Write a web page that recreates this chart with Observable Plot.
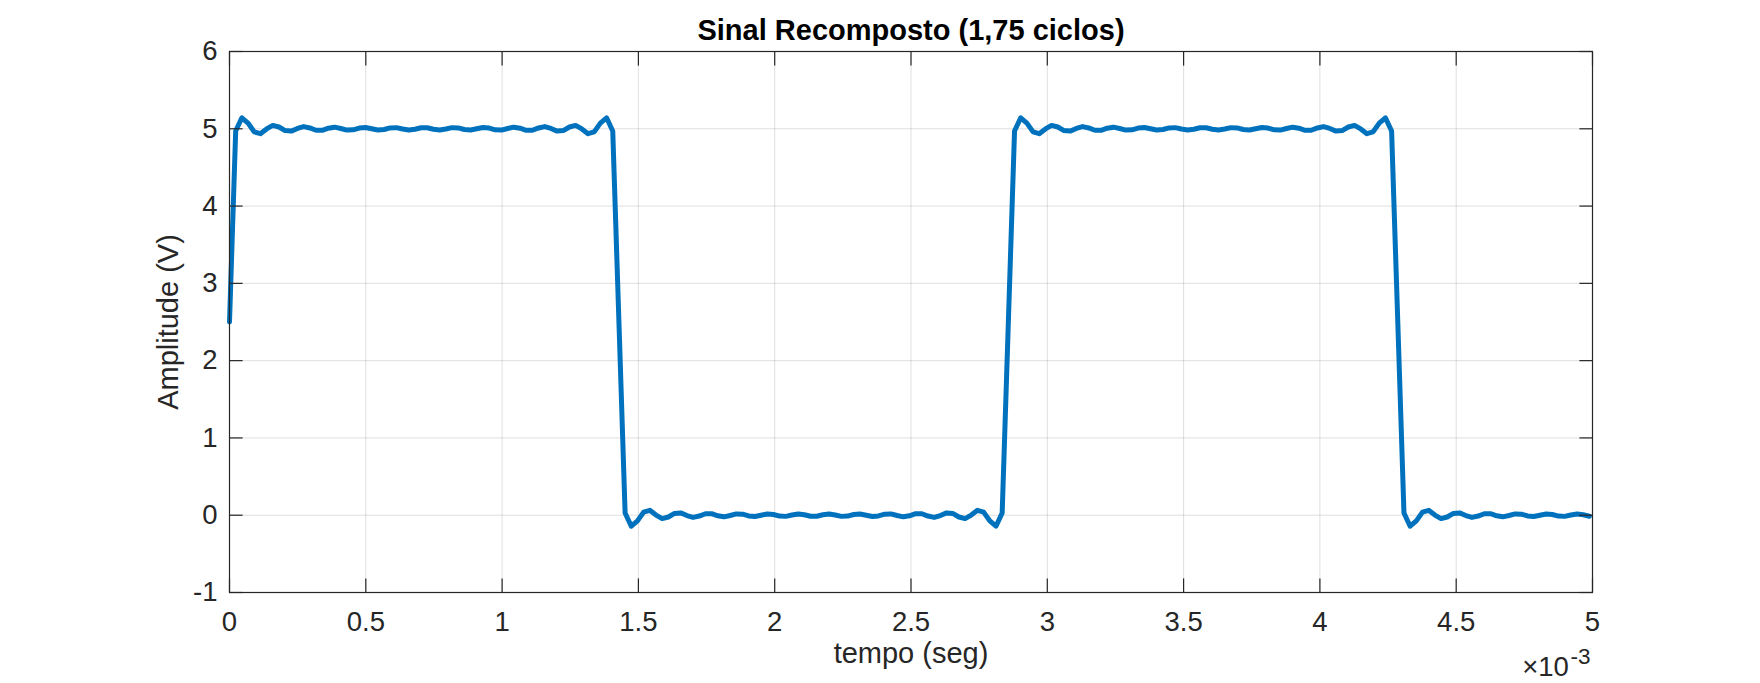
<!DOCTYPE html>
<html><head><meta charset="utf-8">
<script src="https://cdn.jsdelivr.net/npm/d3@7"></script>
<script src="https://cdn.jsdelivr.net/npm/@observablehq/plot@0.6"></script>
<style>
html,body{margin:0;padding:0;background:#fff;}
#chart{width:1760px;height:683px;}
</style></head><body><div id="chart"></div>
<script>
const titleText = "Sinal Recomposto (1,75 ciclos)";
const xLabel = "tempo (seg)";
const yLabel = "Amplitude (V)";
const xExponentBase = "×10";
const xExponent = "-3";
const sampleRate = 44100; // samples per second (time axis shown in units of 10^-3 s)
const xDomain = [0, 5];
const yDomain = [-1, 6];
const xTicks = [0, 0.5, 1, 1.5, 2, 2.5, 3, 3.5, 4, 4.5, 5];
const xTickLabels = ["0", "0.5", "1", "1.5", "2", "2.5", "3", "3.5", "4", "4.5", "5"];
const yTicks = [-1, 0, 1, 2, 3, 4, 5, 6];
const yTickLabels = ["-1", "0", "1", "2", "3", "4", "5", "6"];
// amplitude (V) of each sample
const amplitude = [
  2.5, 4.971, 5.142, 5.073, 4.960, 4.937, 4.998, 5.044, 5.023, 4.977,
  4.970, 5.004, 5.028, 5.011, 4.981, 4.981, 5.007, 5.021, 5.004, 4.983,
  4.987, 5.009, 5.017, 5.000, 4.984, 4.991, 5.011, 5.015, 4.997, 4.984,
  4.994, 5.013, 5.013, 4.994, 4.984, 4.997, 5.015, 5.011, 4.991, 4.984,
  5.000, 5.017, 5.009, 4.987, 4.983, 5.004, 5.021, 5.007, 4.981, 4.981,
  5.011, 5.028, 5.004, 4.970, 4.977, 5.023, 5.044, 4.998, 4.937, 4.960,
  5.073, 5.142, 4.971,
  2.5, 0.029, -0.142, -0.073, 0.040, 0.063, 0.002, -0.044, -0.023, 0.023,
  0.030, -0.004, -0.028, -0.011, 0.019, 0.019, -0.007, -0.021, -0.004, 0.017,
  0.013, -0.009, -0.017, 0.000, 0.016, 0.009, -0.011, -0.015, 0.003, 0.016,
  0.006, -0.013, -0.013, 0.006, 0.016, 0.003, -0.015, -0.011, 0.009, 0.016,
  0.000, -0.017, -0.009, 0.013, 0.017, -0.004, -0.021, -0.007, 0.019, 0.019,
  -0.011, -0.028, -0.004, 0.030, 0.023, -0.023, -0.044, 0.002, 0.063, 0.040,
  -0.073, -0.142, 0.029,
  2.5, 4.971, 5.142, 5.073, 4.960, 4.937, 4.998, 5.044, 5.023, 4.977,
  4.970, 5.004, 5.028, 5.011, 4.981, 4.981, 5.007, 5.021, 5.004, 4.983,
  4.987, 5.009, 5.017, 5.000, 4.984, 4.991, 5.011, 5.015, 4.997, 4.984,
  4.994, 5.013, 5.013, 4.994, 4.984, 4.997, 5.015, 5.011, 4.991, 4.984,
  5.000, 5.017, 5.009, 4.987, 4.983, 5.004, 5.021, 5.007, 4.981, 4.981,
  5.011, 5.028, 5.004, 4.970, 4.977, 5.023, 5.044, 4.998, 4.937, 4.960,
  5.073, 5.142, 4.971,
  2.5, 0.029, -0.142, -0.073, 0.040, 0.063, 0.002, -0.044, -0.023, 0.023,
  0.030, -0.004, -0.028, -0.011, 0.019, 0.019, -0.007, -0.021, -0.004, 0.017,
  0.013, -0.009, -0.017, 0.000, 0.016, 0.009, -0.011, -0.015, 0.003, 0.016,
  0.006, -0.013
];
const data = amplitude.map((v, i) => ({t: (i / sampleRate) * 1000, v}));

const font = "'Liberation Sans', Helvetica, Arial, sans-serif";
const ink = "#262626";
const tickLen = 13.6;
const fmtX = (d) => xTickLabels[xTicks.indexOf(d)];
const fmtY = (d) => yTickLabels[yTicks.indexOf(d)];
const blank = () => "";

const chart = Plot.plot({
  width: 1760,
  height: 683,
  marginLeft: 229,
  marginRight: 168,
  marginTop: 51,
  marginBottom: 91,
  style: {fontFamily: font, color: ink, background: "#fff", overflow: "visible"},
  x: {domain: xDomain},
  y: {domain: yDomain},
  marks: [
    Plot.gridX(xTicks, {stroke: ink, strokeOpacity: 0.15, strokeWidth: 1}),
    Plot.gridY(yTicks, {stroke: ink, strokeOpacity: 0.15, strokeWidth: 1}),
    Plot.line(data, {x: "t", y: "v", stroke: "#0072BD", strokeWidth: 5}),
    Plot.frame({stroke: ink, strokeWidth: 1.2}),
    Plot.axisX(xTicks, {anchor: "bottom", tickSize: -tickLen, tickFormat: blank, label: null, strokeWidth: 1.2}),
    Plot.axisX(xTicks, {anchor: "top", tickSize: -tickLen, tickFormat: blank, label: null, strokeWidth: 1.2}),
    Plot.axisY(yTicks, {anchor: "left", tickSize: -tickLen, tickFormat: blank, label: null, strokeWidth: 1.2}),
    Plot.axisY(yTicks, {anchor: "right", tickSize: -tickLen, tickFormat: blank, label: null, strokeWidth: 1.2}),
    Plot.axisX(xTicks, {anchor: "bottom", tickSize: 0, tickPadding: 19, tickFormat: fmtX, fontSize: 27.5, label: null}),
    Plot.axisY(yTicks, {anchor: "left", tickSize: 0, tickPadding: 12, tickFormat: fmtY, fontSize: 27.5, label: null}),
    Plot.text([titleText], {text: (d) => d, frameAnchor: "top", textAnchor: "middle", dy: -20.3, fontSize: 29, fontWeight: "bold", fill: "#000", lineAnchor: "middle"}),
    Plot.text([xLabel], {text: (d) => d, frameAnchor: "bottom", textAnchor: "middle", dy: 61.7, fontSize: 29, fill: ink, lineAnchor: "middle"}),
    Plot.text([yLabel], {text: (d) => d, frameAnchor: "left", textAnchor: "middle", dx: -61, rotate: -90, fontSize: 29, fill: ink, lineAnchor: "middle"}),
    Plot.text([xExponentBase], {text: (d) => d, frameAnchor: "bottom-right", dx: -23.7, dy: 74.2, textAnchor: "end", fontSize: 27.5, fill: ink, lineAnchor: "middle"}),
    Plot.text([xExponent], {text: (d) => d, frameAnchor: "bottom-right", dx: -2, dy: 63.8, textAnchor: "end", fontSize: 22.5, fill: ink, lineAnchor: "middle"})
  ]
});
document.getElementById("chart").appendChild(chart);
</script>
</body></html>
